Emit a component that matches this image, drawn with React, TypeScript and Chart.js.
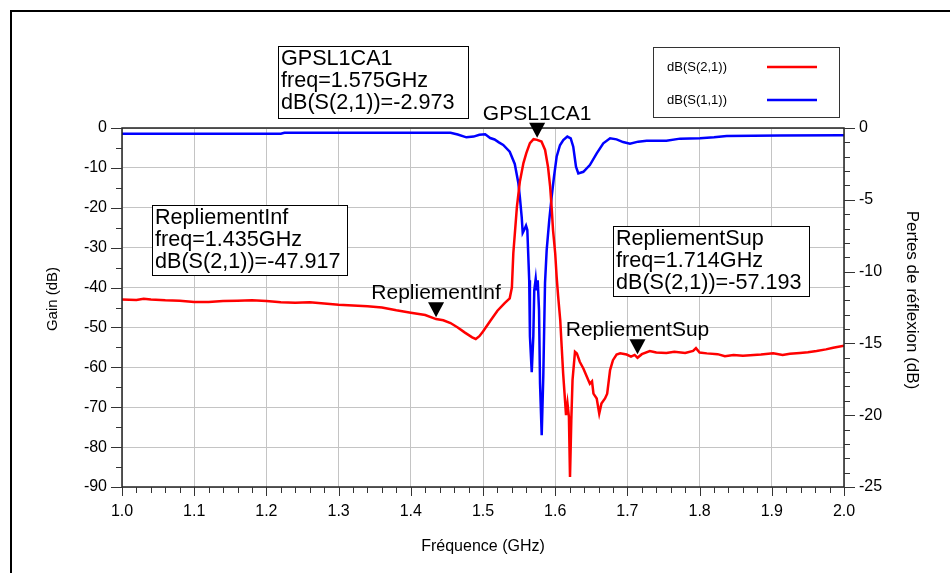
import React, { useEffect, useRef } from "react";
import { Chart, registerables } from "chart.js";

Chart.register(...registerables);

// ---- data ----
const s21Freq = [
  1.0, 1.02, 1.03, 1.04, 1.06, 1.08, 1.1, 1.12, 1.14, 1.16, 1.18, 1.2, 1.22, 1.24, 1.26, 1.28, 1.3, 1.32, 1.34, 1.36,
  1.38, 1.4, 1.42, 1.435, 1.445, 1.455, 1.465, 1.475, 1.485, 1.49, 1.495, 1.5, 1.51, 1.52, 1.53, 1.537, 1.54, 1.542,
  1.547, 1.551, 1.556, 1.56, 1.565, 1.57, 1.575, 1.581, 1.586, 1.59, 1.593, 1.595, 1.597, 1.6, 1.602, 1.604, 1.607,
  1.609, 1.611, 1.6136, 1.615, 1.617, 1.619, 1.6205, 1.6223, 1.624, 1.6274, 1.63, 1.634, 1.639, 1.644, 1.648, 1.651,
  1.653, 1.6575, 1.661, 1.664, 1.669, 1.672, 1.676, 1.68, 1.685, 1.69, 1.699, 1.705, 1.71, 1.714, 1.72, 1.731, 1.74,
  1.754, 1.765, 1.78, 1.791, 1.795, 1.8, 1.81, 1.825, 1.835, 1.847, 1.86, 1.87, 1.885, 1.902, 1.915, 1.925, 1.939,
  1.95, 1.962, 1.975, 1.985, 2.0,
];
const s21Values = [
  -43.0, -43.1, -42.8, -43.0, -43.2, -43.3, -43.6, -43.6, -43.4, -43.3, -43.2, -43.4, -43.7, -43.8, -43.7, -44.0, -44.3,
  -44.5, -44.7, -45.0, -45.7, -46.3, -46.9, -47.9, -48.2, -48.9, -50.0, -51.3, -52.5, -52.9, -52.2, -51.0, -48.4, -45.8,
  -43.9, -42.7, -40.0, -31.4, -19.7, -13.5, -8.8, -6.3, -3.8, -2.8, -2.97, -3.4, -5.5, -9.7, -14.7, -19.7, -25.6, -31.4,
  -37.3, -42.0, -48.2, -54.9, -61.5, -68.3, -72.0, -69.0, -72.4, -87.5, -73.3, -63.2, -56.1, -56.5, -58.6, -60.3, -62.4,
  -64.1, -63.5, -66.6, -67.8, -71.6, -69.1, -67.8, -66.6, -60.7, -58.2, -56.8, -56.5, -56.8, -57.3, -56.9, -57.6, -56.7,
  -55.9, -56.3, -56.4, -56.1, -56.4, -55.9, -55.2, -56.3, -56.5, -56.7, -57.2, -56.9, -57.1, -57.0, -56.8, -56.5, -56.9,
  -56.6, -56.4, -56.2, -55.9, -55.5, -55.1, -54.6,
];
const s11Freq = [
  1.0, 1.1, 1.22, 1.225, 1.3, 1.4, 1.455, 1.465, 1.477, 1.487, 1.495, 1.503, 1.51, 1.516, 1.522, 1.528, 1.537, 1.544,
  1.549, 1.551, 1.5536, 1.555, 1.557, 1.5596, 1.5614, 1.564, 1.565, 1.5675, 1.5697, 1.571, 1.573, 1.5744, 1.5758,
  1.5776, 1.579, 1.5813, 1.5835, 1.5859, 1.5882, 1.5918, 1.5951, 1.5983, 1.602, 1.6066, 1.6112, 1.6168, 1.6215, 1.625,
  1.6288, 1.632, 1.639, 1.648, 1.6575, 1.6666, 1.676, 1.685, 1.694, 1.7036, 1.715, 1.7267, 1.754, 1.773, 1.8006, 1.82,
  1.8375, 1.911, 1.997, 2.0,
];
const s11Values = [
  -0.4, -0.4, -0.4, -0.33, -0.33, -0.33, -0.33, -0.45, -0.65, -0.6, -0.47, -0.44, -0.7, -0.8, -1.0, -1.18, -1.65, -2.5,
  -3.85, -4.78, -6.2, -7.3, -7.1, -6.8, -7.1, -10.6, -14.5, -17.0, -14.5, -11.3, -10.5, -11.3, -10.6, -12.7, -17.8,
  -21.4, -17.3, -10.8, -8.5, -6.4, -4.8, -3.4, -2.0, -1.2, -0.84, -0.6, -0.72, -1.3, -2.7, -3.16, -3.05, -2.58, -1.77,
  -1.07, -0.72, -0.79, -0.98, -1.1, -0.95, -0.88, -0.88, -0.74, -0.72, -0.65, -0.56, -0.52, -0.5, -0.5,
];
const xTickValues = [1.0, 1.1, 1.2, 1.3, 1.4, 1.5, 1.6, 1.7, 1.8, 1.9, 2.0];
const leftTickValues = [0, -10, -20, -30, -40, -50, -60, -70, -80, -90];
const rightTickValues = [0, -5, -10, -15, -20, -25];
const seriesLabels = ["dB(S(2,1))", "dB(S(1,1))"];
const markerNames = ["GPSL1CA1", "RepliementInf", "RepliementSup"];
const markerFreqs = [1.575, 1.435, 1.714];
const markerValues = [-2.973, -47.917, -57.193];

const FONT = "'Liberation Sans', Arial, sans-serif";

// marker readout boxes (layout only)
const boxRects = [
  { x: 278, y: 46, w: 190, h: 72 },
  { x: 152, y: 205, w: 195, h: 70 },
  { x: 613, y: 226, w: 196, h: 70 },
];

const overlayPlugin = {
  id: "overlay",
  afterDraw(chart: any) {
    const ctx = chart.ctx as CanvasRenderingContext2D;
    const { left, right, top, bottom } = chart.chartArea;
    const xs = chart.scales.x;
    const ys = chart.scales.y;
    const y1 = chart.scales.y1;
    ctx.save();

    // outer frame
    ctx.strokeStyle = "#000";
    ctx.lineWidth = 2;
    ctx.beginPath();
    ctx.moveTo(11, 573);
    ctx.lineTo(11, 11);
    ctx.lineTo(950, 11);
    ctx.stroke();

    // plot border
    ctx.strokeStyle = "#222";
    ctx.lineWidth = 1.5;
    ctx.strokeRect(left, top, right - left, bottom - top);

    // ticks
    ctx.strokeStyle = "#333";
    ctx.lineWidth = 1;
    ctx.beginPath();
    for (let v = -90; v <= 0; v += 5) {
      const y = Math.round(ys.getPixelForValue(v)) + 0.5;
      const len = v % 10 === 0 ? 11 : 6;
      ctx.moveTo(left - len, y);
      ctx.lineTo(left, y);
    }
    for (let v = -25; v <= 0; v += 1) {
      const y = Math.round(y1.getPixelForValue(v)) + 0.5;
      const len = v % 5 === 0 ? 11 : 6;
      ctx.moveTo(right, y);
      ctx.lineTo(right + len, y);
    }
    for (let i = 0; i <= 50; i++) {
      const f = 1 + i * 0.02;
      const x = Math.round(xs.getPixelForValue(f)) + 0.5;
      const len = i % 5 === 0 ? 9 : 6;
      ctx.moveTo(x, bottom);
      ctx.lineTo(x, bottom + len);
    }
    ctx.stroke();

    // axis titles
    ctx.fillStyle = "#000";
    ctx.textAlign = "center";
    ctx.textBaseline = "middle";
    ctx.font = `16px ${FONT}`;
    ctx.fillText("Fréquence (GHz)", (left + right) / 2, 547);
    ctx.save();
    ctx.translate(53, 299);
    ctx.rotate(-Math.PI / 2);
    ctx.font = `15px ${FONT}`;
    ctx.fillText("Gain (dB)", 0, 0);
    ctx.restore();
    ctx.save();
    ctx.translate(912, 300);
    ctx.rotate(Math.PI / 2);
    ctx.font = `17px ${FONT}`;
    ctx.fillText("Pertes de réflexion (dB)", 0, 0);
    ctx.restore();

    // markers
    for (let i = 0; i < markerNames.length; i++) {
      const px = xs.getPixelForValue(markerFreqs[i]);
      const py = ys.getPixelForValue(markerValues[i]) - 2;
      ctx.fillStyle = "#000";
      ctx.beginPath();
      ctx.moveTo(px, py);
      ctx.lineTo(px - 8, py - 15);
      ctx.lineTo(px + 8, py - 15);
      ctx.closePath();
      ctx.fill();
      ctx.font = `21px ${FONT}`;
      ctx.textAlign = "center";
      ctx.textBaseline = "alphabetic";
      ctx.fillText(markerNames[i], px, py - 18);
    }

    // readout boxes
    for (let i = 0; i < markerNames.length; i++) {
      const b = boxRects[i];
      ctx.fillStyle = "#fff";
      ctx.fillRect(b.x, b.y, b.w, b.h);
      ctx.strokeStyle = "#000";
      ctx.lineWidth = 1;
      ctx.strokeRect(b.x + 0.5, b.y + 0.5, b.w, b.h);
      ctx.fillStyle = "#000";
      ctx.font = `21.6px ${FONT}`;
      ctx.textAlign = "left";
      ctx.textBaseline = "middle";
      const lines = [
        markerNames[i],
        `freq=${markerFreqs[i].toFixed(3)}GHz`,
        `${seriesLabels[0]}=${markerValues[i].toFixed(3)}`,
      ];
      lines.forEach((t, k) => ctx.fillText(t, b.x + 3, b.y + 13 + k * 22));
    }

    // legend
    const lg = { x: 653, y: 47, w: 186, h: 70 };
    ctx.fillStyle = "#fff";
    ctx.fillRect(lg.x, lg.y, lg.w, lg.h);
    ctx.strokeStyle = "#333";
    ctx.lineWidth = 1;
    ctx.strokeRect(lg.x + 0.5, lg.y + 0.5, lg.w, lg.h);
    chart.data.datasets.forEach((ds: any, k: number) => {
      const cy = 67 + k * 33;
      ctx.fillStyle = "#000";
      ctx.font = `13px ${FONT}`;
      ctx.textAlign = "left";
      ctx.textBaseline = "middle";
      ctx.fillText(ds.label, 667, cy);
      ctx.strokeStyle = ds.borderColor;
      ctx.lineWidth = 2.5;
      ctx.beginPath();
      ctx.moveTo(767, cy);
      ctx.lineTo(817, cy);
      ctx.stroke();
    });

    ctx.restore();
  },
};

export default function App() {
  const ref = useRef<HTMLCanvasElement | null>(null);
  useEffect(() => {
    document.body.style.margin = "0";
    const canvas = ref.current!;
    const tickFont = { family: FONT, size: 16 };
    const chart = new Chart(canvas, {
      type: "line",
      data: {
        datasets: [
          {
            label: seriesLabels[0],
            data: s21Freq.map((f, i) => ({ x: f, y: s21Values[i] })),
            borderColor: "#ff0000",
            borderWidth: 2.5,
            pointRadius: 0,
            tension: 0,
            yAxisID: "y",
          },
          {
            label: seriesLabels[1],
            data: s11Freq.map((f, i) => ({ x: f, y: s11Values[i] })),
            borderColor: "#0000ff",
            borderWidth: 2.5,
            pointRadius: 0,
            tension: 0,
            yAxisID: "y1",
          },
        ],
      },
      options: {
        animation: false,
        responsive: false,
        maintainAspectRatio: false,
        layout: { padding: { top: 128, left: 0, right: 0, bottom: 0 } },
        plugins: { legend: { display: false }, tooltip: { enabled: false } },
        scales: {
          x: {
            type: "linear",
            min: 1,
            max: 2,
            afterFit: (s: any) => {
              s.height = 86;
            },
            afterBuildTicks: (s: any) => {
              s.ticks = xTickValues.map((v) => ({ value: v }));
            },
            ticks: {
              callback: (v: any) => Number(v).toFixed(1),
              font: tickFont,
              color: "#000",
              padding: 15,
              maxRotation: 0,
              autoSkip: false,
            },
            grid: { color: "#c4c4c4", drawTicks: false },
            border: { display: false },
          },
          y: {
            position: "left",
            min: -90,
            max: 0,
            afterFit: (s: any) => {
              s.width = 122;
            },
            afterBuildTicks: (s: any) => {
              s.ticks = leftTickValues.map((v) => ({ value: v }));
            },
            ticks: { font: tickFont, color: "#000", padding: 15 },
            grid: { color: "#c4c4c4", drawTicks: false },
            border: { display: false },
          },
          y1: {
            position: "right",
            min: -25,
            max: 0,
            afterFit: (s: any) => {
              s.width = 106;
            },
            afterBuildTicks: (s: any) => {
              s.ticks = rightTickValues.map((v) => ({ value: v }));
            },
            ticks: { font: tickFont, color: "#000", padding: 15 },
            grid: { display: false, drawTicks: false },
            border: { display: false },
          },
        },
      },
      plugins: [overlayPlugin],
    });
    return () => chart.destroy();
  }, []);
  return (
    <div style={{ width: 950, height: 573, background: "#fff" }}>
      <canvas ref={ref} width={950} height={573} style={{ display: "block" }} />
    </div>
  );
}
